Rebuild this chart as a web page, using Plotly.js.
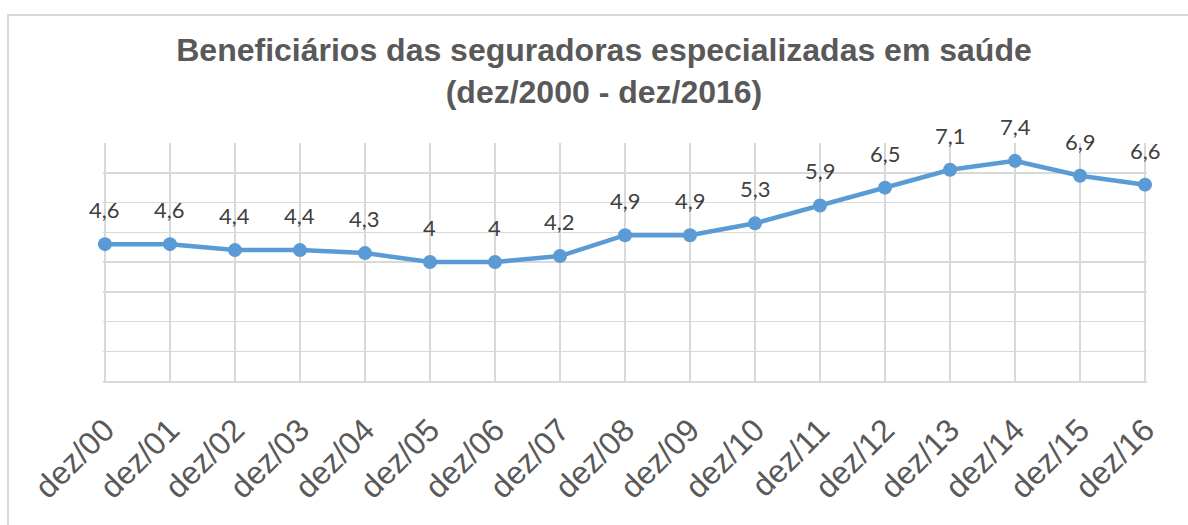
<!DOCTYPE html>
<html>
<head>
<meta charset="utf-8">
<script src="https://cdn.plot.ly/plotly-3.0.1.min.js"></script>
<style>
  html, body { margin: 0; padding: 0; background: #ffffff; }
  #wrap { position: relative; width: 1188px; height: 525px; overflow: hidden; }
  #chart { position: absolute; left: 0; top: 0; width: 1188px; height: 525px; }
  #frame { position: absolute; left: 7px; top: 14px; width: 1200px; height: 600px;
           border-left: 2px solid #d9d9d9; border-top: 2px solid #d9d9d9; pointer-events: none; }
</style>
</head>
<body>
<div id="wrap">
  <div id="chart"></div>
  <div id="frame"></div>
</div>
<script>
const categories = ["dez/00","dez/01","dez/02","dez/03","dez/04","dez/05","dez/06","dez/07","dez/08","dez/09","dez/10","dez/11","dez/12","dez/13","dez/14","dez/15","dez/16"];
const beneficiarios = [4.6, 4.6, 4.4, 4.4, 4.3, 4.0, 4.0, 4.2, 4.9, 4.9, 5.3, 5.9, 6.5, 7.1, 7.4, 6.9, 6.6];
const titleText = "Beneficiários das seguradoras especializadas em saúde<br>(dez/2000 - dez/2016)";

const fmt = v => String(v).replace('.', ',');

const trace = {
  type: 'scatter',
  mode: 'lines+markers',
  x: categories,
  y: beneficiarios,
  line: { color: '#5B9BD5', width: 4.5 },
  marker: { color: '#5B9BD5', size: 14 },
  cliponaxis: false,
  hoverinfo: 'x+y'
};

const annotations = categories.map((c, i) => ({
  x: c, y: beneficiarios[i], xref: 'x', yref: 'y',
  text: fmt(beneficiarios[i]),
  showarrow: false, yanchor: 'bottom', xanchor: 'center',
  yshift: 19,
  font: { family: 'Lato, "Open Sans", sans-serif', size: 22, color: '#404040' }
}));

const layout = {
  width: 1188, height: 525,
  margin: { l: 103, r: 41, t: 143, b: 144 },
  paper_bgcolor: '#ffffff', plot_bgcolor: '#ffffff',
  showlegend: false,
  title: {
    text: titleText,
    font: { family: '"Liberation Sans", Arial, sans-serif', size: 32, color: '#595959', weight: 'bold' },
    xref: 'container', x: 0.5084, xanchor: 'center',
    yref: 'container', y: 0.884, yanchor: 'middle'
  },
  xaxis: {
    type: 'category',
    range: [-0.03, 16.03],
    showgrid: true, gridcolor: '#d9d9d9', gridwidth: 1.5,
    showline: true, linecolor: '#d9d9d9', linewidth: 1.5,
    zeroline: false,
    ticks: '',
    tickangle: -45,
    ticklabelstandoff: 16,
    tickfont: { family: '"Liberation Sans", Arial, sans-serif', size: 32, color: '#595959' }
  },
  yaxis: {
    range: [0, 8],
    dtick: 1,
    showgrid: true, gridcolor: '#d9d9d9', gridwidth: 1.5,
    showticklabels: false,
    zeroline: false, showline: false, ticks: ''
  },
  annotations: annotations
};

Plotly.newPlot('chart', [trace], layout, { displayModeBar: false, staticPlot: true });
</script>
</body>
</html>
